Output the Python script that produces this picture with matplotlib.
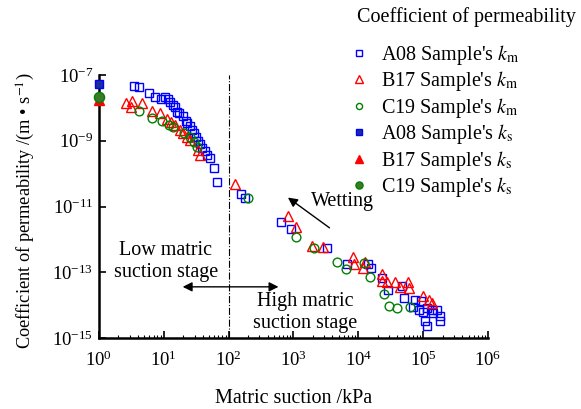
import numpy as np
import matplotlib
matplotlib.use('Agg')
import matplotlib.pyplot as plt
from matplotlib.ticker import LogLocator, NullLocator, NullFormatter

plt.rcParams['font.family'] = ['Liberation Serif', 'DejaVu Serif']
plt.rcParams['mathtext.fontset'] = 'stix'
plt.rcParams['font.size'] = 14.5

# A08 sample, k_m
a08_x = [3.5, 4.1, 5.9, 7.4, 9.1, 10.4, 11.5, 12.6, 14.0, 15.0, 16.2, 17.3, 20.0, 21.8,
         23.1, 25.4, 27.2, 28.9, 31.4, 34.1, 36.2, 39.3, 43.2, 46.9, 51.6, 59.5, 66.2,
         154, 179, 644, 918, 3270, 6650, 14000, 15600, 23100, 28500, 48000, 51000,
         75300, 92200, 70800, 87700, 101000, 114000, 136000, 163000, 183000, 107000,
         114000, 179000, 141000]
a08_y = [4.7e-8, 4.4e-8, 2.8e-8, 2.2e-8, 1.8e-8, 2.2e-8, 1.8e-8, 1.5e-8, 1.25e-8, 1.04e-8,
         7.7e-9, 6.9e-9, 5.7e-9, 4.1e-9, 3.4e-9, 2.9e-9, 2.1e-9, 1.7e-9, 1.33e-9, 9.9e-10,
         8.0e-10, 6.0e-10, 4.8e-10, 3.8e-10, 2.9e-10, 1.46e-10, 5.6e-11,
         2.4e-11, 1.8e-11, 3.3e-12, 2.1e-12, 5.6e-13, 1.84e-13, 1.84e-13, 1.33e-13, 6.6e-14,
         2.8e-14, 3.7e-14, 1.63e-14, 1.45e-14, 1.35e-14, 8.7e-15, 7.2e-15, 6.0e-15, 8.1e-15,
         7.2e-15, 7.2e-15, 4.7e-15, 3.2e-15, 2.35e-15, 3.2e-15, 5.7e-15]

# B17 sample, k_m
b17_x = [2.6, 3.2, 3.1, 4.6, 6.5, 8.7, 11.1, 13.2, 14.9, 17.8, 20.0, 22.6, 25.4, 34.1, 36.2,
         126, 834, 1100, 1920, 2890, 8400, 8610, 12700, 12000, 23100, 23100, 28100, 37000,
         44200, 59300, 61500, 101000, 125000, 136000]
b17_y = [1.38e-8, 1.66e-8, 1.04e-8, 1.38e-8, 8.3e-9, 7.1e-9, 4.5e-9, 3.8e-9, 3.0e-9, 2.2e-9,
         1.73e-9, 1.33e-9, 1.06e-9, 5.2e-10, 3.7e-10,
         5.0e-11, 5.3e-12, 2.3e-12, 6.3e-13, 6.0e-13, 3.0e-13, 1.76e-13, 2.1e-13, 1.33e-13,
         8.9e-14, 5.5e-14, 5.2e-14, 4.9e-14, 3.6e-14, 5.2e-14, 3.3e-14, 1.92e-14, 1.45e-14,
         1.15e-14]

# C19 sample, k_m
c19_x = [4.1, 6.6, 9.5, 12.1, 14.0, 20.6, 25.4, 29.1, 33.1, 203, 1090, 2080, 4760, 6480,
         12100, 15200, 25000, 29900, 39000, 63000]
c19_y = [7.9e-9, 4.8e-9, 4.0e-9, 3.1e-9, 2.6e-9, 1.69e-9, 1.33e-9, 8.9e-10, 6.5e-10, 1.8e-11,
         1.22e-12, 5.6e-13, 2.0e-13, 1.27e-13, 1.87e-13, 7.0e-14, 2.2e-14, 9.5e-15, 8.0e-15,
         8.6e-15]

# saturated k_s (at 1 kPa)
ks_x = [1, 1, 1]
ks_y = [5.3e-8, 1.7e-8, 2.1e-8]

fig = plt.figure(figsize=(5.81, 4.09), dpi=100)
ax = fig.add_axes([0.170, 0.1736, 0.670, 0.643])

blue, red, green = '#0000ff', '#ff0000', '#008000'
ms = 5.8
ax.plot(a08_x, a08_y, 's', ms=ms, mfc='none', mec=blue, mew=1.0, ls='none',
        label="A08 Sample's $k_\\mathrm{m}$")
ax.plot(b17_x, b17_y, '^', ms=ms + 1.5, mfc='none', mec=red, mew=1.0, ls='none',
        label="B17 Sample's $k_\\mathrm{m}$")
ax.plot(c19_x, c19_y, 'o', ms=ms + 0.5, mfc='none', mec=green, mew=1.0, ls='none',
        label="C19 Sample's $k_\\mathrm{m}$")
ax.plot(ks_x[0], ks_y[0], 's', ms=ms, mfc='#1a2f99', mec=blue, mew=1.0, ls='none',
        clip_on=False, zorder=5, label="A08 Sample's $k_\\mathrm{s}$")
ax.plot(ks_x[1], ks_y[1], '^', ms=ms + 1.5, mfc=red, mec=red, mew=1.0, ls='none',
        clip_on=False, zorder=5, label="B17 Sample's $k_\\mathrm{s}$")
ax.plot(ks_x[2], ks_y[2], 'o', ms=ms + 1.5, mfc='#3a7a2a', mec=green, mew=1.0, ls='none',
        clip_on=False, zorder=6, label="C19 Sample's $k_\\mathrm{s}$")

ax.set_xscale('log')
ax.set_yscale('log')
ax.set_xlim(1, 1e6)
ax.set_ylim(1e-15, 1e-7)

ax.axvline(100, color='black', lw=0.8, ls='-.')

ax.spines['top'].set_visible(False)
ax.spines['right'].set_visible(False)
for s in ['left', 'bottom']:
    ax.spines[s].set_linewidth(1.8)

ax.set_yticks([1e-7, 1e-9, 1e-11, 1e-13, 1e-15])
ax.yaxis.set_minor_locator(NullLocator())
ax.xaxis.set_major_locator(LogLocator(base=10, numticks=10))
ax.xaxis.set_minor_locator(LogLocator(base=10, subs=np.arange(2, 10), numticks=20))
ax.xaxis.set_minor_formatter(NullFormatter())
ax.tick_params(which='major', direction='in', length=5, width=1.2, labelsize=13.5)
ax.tick_params(axis='x', which='major', pad=9)
ax.tick_params(axis='y', which='major', pad=4)
ax.tick_params(which='minor', direction='in', length=2.5, width=0.8)

ax.set_xlabel('Matric suction /kPa', labelpad=14)
ax.set_ylabel('Coefficient of permeability /(m \u2022 s$^{-1}$)', fontsize=13.2)
ax.yaxis.set_label_coords(-0.158, 0.483)

ax.annotate('', xy=(760, 2.1e-11), xytext=(3900, 2.0e-12),
            arrowprops=dict(arrowstyle='-|>', color='black', lw=1.0, mutation_scale=14))
ax.text(5620, 1.4e-11, 'Wetting', ha='center', va='center')
ax.annotate('', xy=(650, 3.6e-14), xytext=(17.8, 3.6e-14),
            arrowprops=dict(arrowstyle='<|-|>', color='black', lw=1.0, mutation_scale=14))
ax.text(10.8, 2.1e-13, 'Low matric\nsuction stage', ha='center', va='center', linespacing=1.2)
ax.text(1510, 6.0e-15, 'High matric\nsuction stage', ha='center', va='center', linespacing=1.2)

fig.text(357 / 581, 1 - 17 / 409, 'Coefficient of permeability', ha='left', va='center')
fig.legend(loc='upper left', bbox_to_anchor=(350 / 581, 1 - 43 / 409), frameon=False,
           fontsize=14.5, markerscale=0.7, handlelength=0.9, handletextpad=0.65,
           labelspacing=0.12, borderaxespad=0, borderpad=0)

fig.savefig('out.png', dpi=100)
